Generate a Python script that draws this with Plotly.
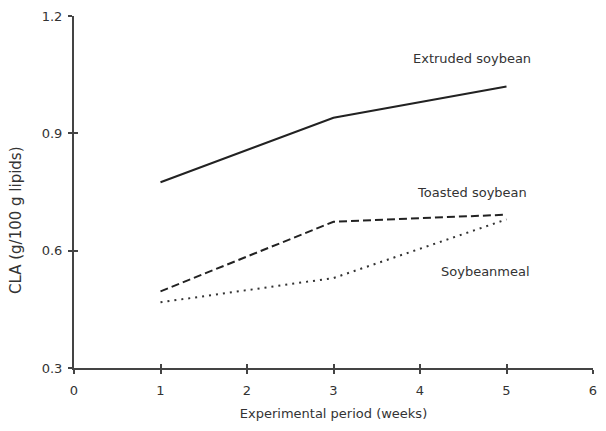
import plotly.graph_objects as go

weeks = [1, 3, 5]
extruded = [0.775, 0.94, 1.02]
toasted = [0.496, 0.674, 0.692]
soymeal = [0.468, 0.530, 0.680]

x_ticks = [0, 1, 2, 3, 4, 5, 6]
y_ticks = [0.3, 0.6, 0.9, 1.2]

FONT = "DejaVu Sans"
INK = "#333333"

fig = go.Figure()
fig.add_trace(go.Scatter(x=weeks, y=extruded, mode="lines",
                         line=dict(color="#222222", width=2, dash="solid")))
fig.add_trace(go.Scatter(x=weeks, y=toasted, mode="lines",
                         line=dict(color="#222222", width=2, dash="8px,4px")))
fig.add_trace(go.Scatter(x=weeks, y=soymeal, mode="lines",
                         line=dict(color="#333333", width=2, dash="2px,5px")))

labels = [
    ("Extruded soybean", 4.6, 1.092),
    ("Toasted soybean", 4.6, 0.75),
    ("Soybeanmeal", 4.76, 0.546),
]
for txt, lx, ly in labels:
    fig.add_annotation(x=lx, y=ly, text=txt, showarrow=False,
                       font=dict(family=FONT, size=13, color=INK))

# y-axis title drawn as a rotated annotation, sitting a little below centre
fig.add_annotation(xref="paper", yref="paper", x=0, y=0.5, xshift=-47, yshift=-28,
                   xanchor="right", yanchor="middle",
                   text="CLA (g/100 g lipids)", textangle=-90, showarrow=False,
                   font=dict(family=FONT, size=15, color=INK))

axis_common = dict(showgrid=False, zeroline=False, showline=True,
                   linecolor="#444444", linewidth=2,
                   ticks="outside", ticklen=4, tickwidth=1.5, tickcolor="#444444",
                   tickfont=dict(family=FONT, size=13, color=INK))

fig.update_layout(
    width=606, height=431,
    margin=dict(l=74, r=9, t=14, b=63),
    paper_bgcolor="white", plot_bgcolor="white",
    showlegend=False,
    xaxis=dict(range=[0, 6], tickvals=x_ticks, ticktext=[str(v) for v in x_ticks],
               ticklabelstandoff=5,
               title=dict(text="Experimental period (weeks)",
                          font=dict(family=FONT, size=13, color=INK), standoff=12),
               **axis_common),
    yaxis=dict(range=[0.3, 1.2], tickvals=y_ticks, ticktext=["0.3", "0.6", "0.9", "1.2"],
               ticklabelstandoff=3,
               **axis_common),
    xaxis2=dict(range=[0, 6], overlaying="x", side="bottom", tickvals=x_ticks,
                showticklabels=False, showline=False, showgrid=False, zeroline=False,
                ticks="inside", ticklen=4, tickwidth=1.5, tickcolor="#444444"),
    yaxis2=dict(range=[0.3, 1.2], overlaying="y", side="left", tickvals=y_ticks,
                showticklabels=False, showline=False, showgrid=False, zeroline=False,
                ticks="inside", ticklen=4, tickwidth=1.5, tickcolor="#444444"),
)
# invisible carrier so the inner tick axes are rendered
fig.add_trace(go.Scatter(x=[0], y=[0.3], xaxis="x2", yaxis="y2", mode="markers",
                         marker=dict(opacity=0), hoverinfo="skip"))

fig.write_html("out.html")
